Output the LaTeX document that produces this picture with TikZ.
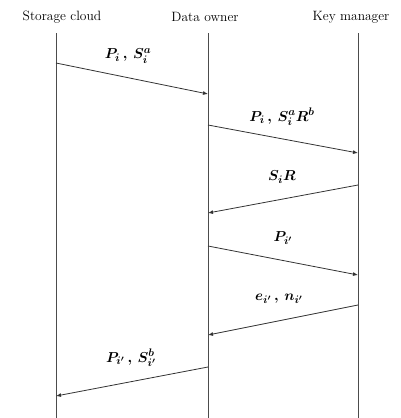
\documentclass[tikz,border=0pt]{standalone}
\usetikzlibrary{arrows.meta}
\begin{document}
\begin{tikzpicture}[x=1pt,y=-1pt,
  hdr/.style={font=\fontsize{13.5}{15}\selectfont, inner sep=0pt},
  lbl/.style={font=\fontsize{15.5}{17}\selectfont\boldmath, inner sep=0pt},
  life/.style={draw=black!70, line width=0.8pt},
  msg/.style={draw=black!80, line width=0.8pt, -{Latex[length=5pt,width=4pt]}}]
\useasboundingbox (0,0) rectangle (401,418);
% headers
\node[hdr] (sc) at (62,17) {Storage cloud};
\node[hdr] (do) at (205,17) {Data owner};
\node[hdr] (km) at (351,17) {Key manager};
% lifelines
\coordinate (scT) at (56,33); \coordinate (scB) at (56,418);
\coordinate (doT) at (208,33); \coordinate (doB) at (208,418);
\coordinate (kmT) at (358,33); \coordinate (kmB) at (358,418);
\draw[life] (scT) -- (scB);
\draw[life] (doT) -- (doB);
\draw[life] (kmT) -- (kmB);
% message end points
\coordinate (a1) at (56,63);  \coordinate (b1) at (208,94);
\coordinate (a2) at (208,125); \coordinate (b2) at (358,153);
\coordinate (a3) at (358,185); \coordinate (b3) at (208,213);
\coordinate (a4) at (208,246); \coordinate (b4) at (358,275);
\coordinate (a5) at (358,305); \coordinate (b5) at (208,335);
\coordinate (a6) at (208,367); \coordinate (b6) at (56,396);
\draw[msg] (a1) -- (b1);
\draw[msg] (a2) -- (b2);
\draw[msg] (a3) -- (b3);
\draw[msg] (a4) -- (b4);
\draw[msg] (a5) -- (b5);
\draw[msg] (a6) -- (b6);
% labels
\node[lbl] (l1) at (128,56) {$P_i\,,\,S_i^{a}$};
\node[lbl] (l2) at (282,117) {$P_i\,,\,S_i^{a}R^{b}$};
\node[lbl] (l3) at (282,177) {$S_iR$};
\node[lbl] (l4) at (283,238) {$P_{i'}$};
\node[lbl] (l5) at (279,299) {$e_{i'}\,,\,n_{i'}$};
\node[lbl] (l6) at (131,358) {$P_{i'}\,,\,S_{i'}^{b}$};
\end{tikzpicture}
\end{document}
